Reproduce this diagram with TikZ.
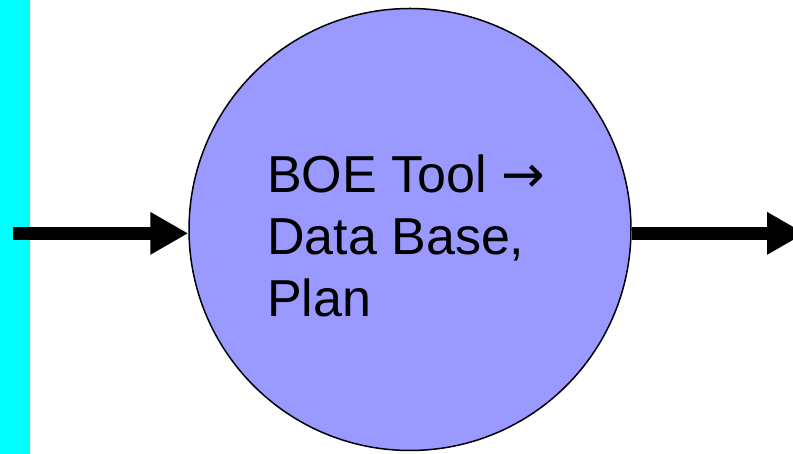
\documentclass[tikz,border=0pt]{standalone}
\usepackage{fontspec}
\setmainfont{Liberation Sans}
\newfontfamily\arrowfont{DejaVu Sans}
\usetikzlibrary{arrows.meta}
\definecolor{barcyan}{HTML}{00FFFF}
\definecolor{bubble}{HTML}{9999FF}
\tikzset{
  flowarrow/.style={line width=13pt, -{Triangle[length=38pt,width=40pt]}},
  bubblenode/.style={circle, draw=black, line width=1.5pt, fill=bubble, minimum size=442pt, inner sep=0pt},
  labeltext/.style={align=left, font=\fontsize{52}{62}\selectfont, inner sep=0pt, anchor=base west}
}
\begin{document}
\begin{tikzpicture}[x=1pt,y=1pt]
\useasboundingbox (0,0) rectangle (793,454);
\fill[white] (0,0) rectangle (793,454);
\node[fill=barcyan, minimum width=30pt, minimum height=454pt, inner sep=0pt, anchor=south west] (bar) at (0,0) {};
\node[bubblenode] (proc) at (410,224.5) {};
\node[labeltext] (lbl) at (267,137) {BOE Tool {\arrowfont→}\\Data Base,\\Plan};
\coordinate (inend) at (proc.181.7);
\coordinate (outstart) at (proc.-1.7);
\coordinate (instart) at (13,0 |- inend);
\coordinate (outend) at (805,0 |- outstart);
\draw[flowarrow] (instart) -- (inend);
\draw[flowarrow] (outstart) -- (outend);
\end{tikzpicture}
\end{document}
